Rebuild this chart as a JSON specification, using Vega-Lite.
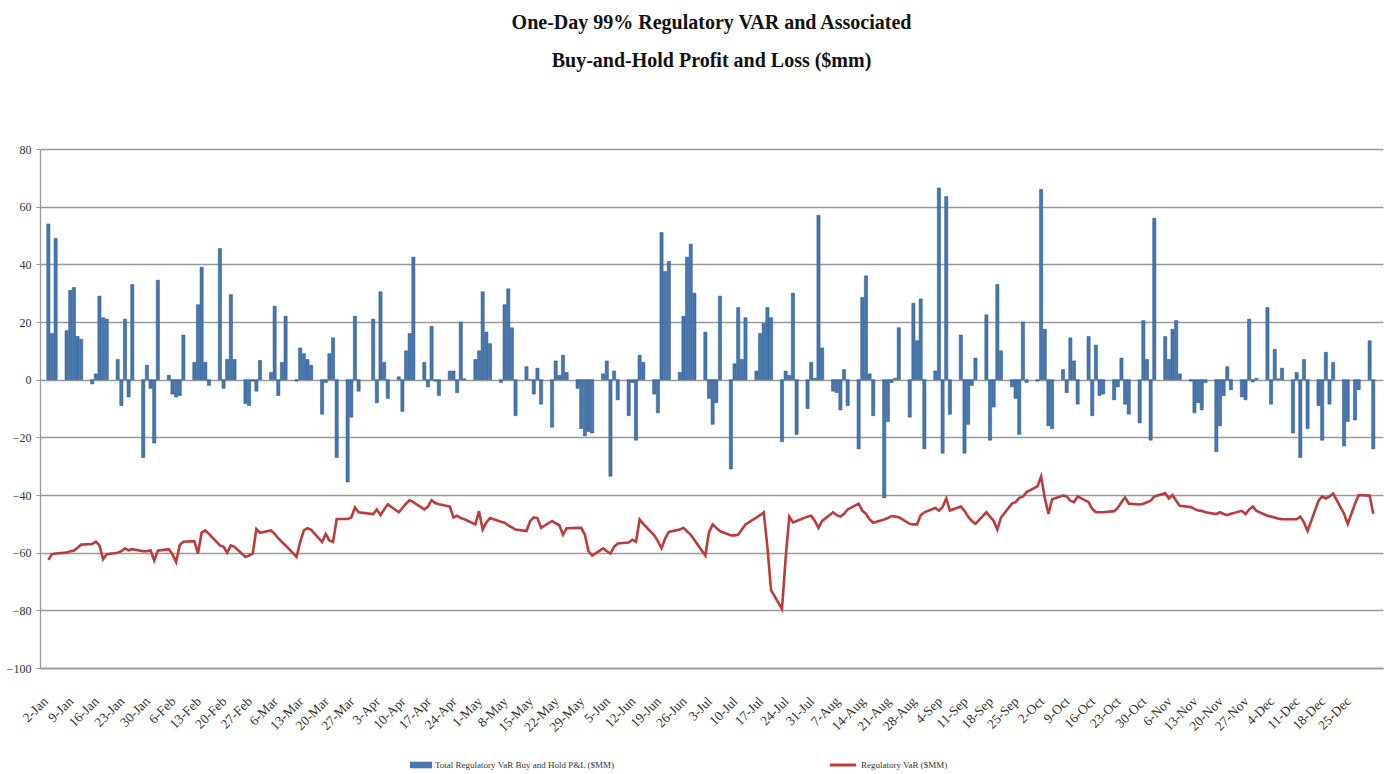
{
  "$schema": "https://vega.github.io/schema/vega-lite/v6.json",
  "width": 1343,
  "height": 519,
  "autosize": {"type": "none"},
  "padding": {"left": 40, "top": 149, "right": 8, "bottom": 106},
  "background": "white",
  "config": {"view": {"stroke": null}, "font": "Liberation Serif"},
  "title": {
    "text": ["One-Day 99% Regulatory VAR and Associated", "Buy-and-Hold Profit and Loss ($mm)"],
    "anchor": "middle", "frame": "group", "font": "Liberation Serif", "fontSize": 20,
    "fontWeight": "bold", "lineHeight": 38, "offset": 72, "color": "#111"
  },
  "data": {"values": [
    {"d":"2013-01-02","pnl":54,"v":-62.5},{"d":"2013-01-03","pnl":16,"v":-60.5},{"d":"2013-01-04","pnl":49,"v":-60.3},
    {"d":"2013-01-07","pnl":17,"v":-60},{"d":"2013-01-08","pnl":31,"v":-59.5},{"d":"2013-01-09","pnl":32,"v":-59.3},{"d":"2013-01-10","pnl":15,"v":-58.3},{"d":"2013-01-11","pnl":14,"v":-57.2},
    {"d":"2013-01-14","pnl":-1.5,"v":-57},{"d":"2013-01-15","pnl":2,"v":-56.2},{"d":"2013-01-16","pnl":29,"v":-57.5},{"d":"2013-01-17","pnl":21.5,"v":-62.3},{"d":"2013-01-18","pnl":21,"v":-60.5},
    {"d":"2013-01-21","pnl":7,"v":-60},{"d":"2013-01-22","pnl":-9,"v":-59.5},{"d":"2013-01-23","pnl":21,"v":-58.5},{"d":"2013-01-24","pnl":-6,"v":-59.2},{"d":"2013-01-25","pnl":33,"v":-58.8},
    {"d":"2013-01-28","pnl":-27,"v":-59.5},{"d":"2013-01-29","pnl":5,"v":-59.5},{"d":"2013-01-30","pnl":-3,"v":-59.2},{"d":"2013-01-31","pnl":-22,"v":-62.7},{"d":"2013-02-01","pnl":34.5,"v":-59.3},
    {"d":"2013-02-04","pnl":1.5,"v":-58.8},{"d":"2013-02-05","pnl":-5,"v":-60.5},{"d":"2013-02-06","pnl":-6,"v":-63.3},{"d":"2013-02-07","pnl":-5.5,"v":-57.3},{"d":"2013-02-08","pnl":15.5,"v":-56.2},
    {"d":"2013-02-11","pnl":6,"v":-56},{"d":"2013-02-12","pnl":26,"v":-60.3},{"d":"2013-02-13","pnl":39,"v":-53},{"d":"2013-02-14","pnl":6,"v":-52.3},{"d":"2013-02-15","pnl":-2,"v":-53.5},
    {"d":"2013-02-18","pnl":45.5,"v":-57.5},{"d":"2013-02-19","pnl":-3,"v":-58},{"d":"2013-02-20","pnl":7,"v":-60},{"d":"2013-02-21","pnl":29.5,"v":-57.5},{"d":"2013-02-22","pnl":7,"v":-58},
    {"d":"2013-02-25","pnl":-8.3,"v":-61.5},{"d":"2013-02-26","pnl":-9,"v":-61},{"d":"2013-02-27","pnl":-0.5,"v":-60.3},{"d":"2013-02-28","pnl":-4,"v":-51.8},{"d":"2013-03-01","pnl":6.7,"v":-53.1},
    {"d":"2013-03-04","pnl":2.5,"v":-52.3},{"d":"2013-03-05","pnl":25.5,"v":-53.5},{"d":"2013-03-06","pnl":-5.5,"v":-55},{"d":"2013-03-07","pnl":6,"v":-56.3},{"d":"2013-03-08","pnl":22,"v":-57.5},
    {"d":"2013-03-11","pnl":-0.5,"v":-61.5},{"d":"2013-03-12","pnl":11,"v":-56.3},{"d":"2013-03-13","pnl":9,"v":-52.3},{"d":"2013-03-14","pnl":7,"v":-51.5},{"d":"2013-03-15","pnl":5,"v":-52.1},
    {"d":"2013-03-18","pnl":-12,"v":-56.3},{"d":"2013-03-19","pnl":-1,"v":-53.5},{"d":"2013-03-20","pnl":9,"v":-55.8},{"d":"2013-03-21","pnl":14.5,"v":-56.3},{"d":"2013-03-22","pnl":-27,"v":-48.3},
    {"d":"2013-03-25","pnl":-35.5,"v":-48.3},{"d":"2013-03-26","pnl":-13,"v":-47.8},{"d":"2013-03-27","pnl":22,"v":-44.3},{"d":"2013-03-28","pnl":-4,"v":-46},
    {"d":"2013-04-01","pnl":21,"v":-46.6},{"d":"2013-04-02","pnl":-8,"v":-45},{"d":"2013-04-03","pnl":30.5,"v":-47},{"d":"2013-04-04","pnl":6,"v":-45},{"d":"2013-04-05","pnl":-6.5,"v":-43.2},
    {"d":"2013-04-08","pnl":1,"v":-46},{"d":"2013-04-09","pnl":-11,"v":-44.5},{"d":"2013-04-10","pnl":10,"v":-43},{"d":"2013-04-11","pnl":16,"v":-41.8},{"d":"2013-04-12","pnl":42.5,"v":-42.5},
    {"d":"2013-04-15","pnl":6,"v":-45},{"d":"2013-04-16","pnl":-2.5,"v":-44},{"d":"2013-04-17","pnl":18.5,"v":-41.8},{"d":"2013-04-18","pnl":-0.5,"v":-42.8},{"d":"2013-04-19","pnl":-5.5,"v":-43.2},
    {"d":"2013-04-22","pnl":3,"v":-44},{"d":"2013-04-23","pnl":3,"v":-47.8},{"d":"2013-04-24","pnl":-4.5,"v":-47.2},{"d":"2013-04-25","pnl":20,"v":-48},{"d":"2013-04-26","pnl":0.3,"v":-48.4},
    {"d":"2013-04-29","pnl":7,"v":-50.2},{"d":"2013-04-30","pnl":10,"v":-45.6},{"d":"2013-05-01","pnl":30.5,"v":-52},{"d":"2013-05-02","pnl":16.5,"v":-49.5},{"d":"2013-05-03","pnl":12.5,"v":-48},
    {"d":"2013-05-06","pnl":-1,"v":-49.3},{"d":"2013-05-07","pnl":26,"v":-49.6},{"d":"2013-05-08","pnl":31.5,"v":-50.5},{"d":"2013-05-09","pnl":18,"v":-51.2},{"d":"2013-05-10","pnl":-12.5,"v":-52},
    {"d":"2013-05-13","pnl":4.5,"v":-52.5},{"d":"2013-05-14","pnl":0,"v":-49},{"d":"2013-05-15","pnl":-5,"v":-47.8},{"d":"2013-05-16","pnl":4,"v":-48},{"d":"2013-05-17","pnl":-8.5,"v":-51.4},
    {"d":"2013-05-20","pnl":-16.5,"v":-49},{"d":"2013-05-21","pnl":6.5,"v":-49.8},{"d":"2013-05-22","pnl":1.5,"v":-50.5},{"d":"2013-05-23","pnl":8.5,"v":-53.8},{"d":"2013-05-24","pnl":2.5,"v":-51.5},
    {"d":"2013-05-27","pnl":-3,"v":-51.4},{"d":"2013-05-28","pnl":-17,"v":-51.4},{"d":"2013-05-29","pnl":-19.5,"v":-53.8},{"d":"2013-05-30","pnl":-18,"v":-59.5},{"d":"2013-05-31","pnl":-18.5,"v":-61},
    {"d":"2013-06-03","pnl":2,"v":-58.5},{"d":"2013-06-04","pnl":6.5,"v":-59.5},{"d":"2013-06-05","pnl":-33.5,"v":-60.3},{"d":"2013-06-06","pnl":3,"v":-58},{"d":"2013-06-07","pnl":-7,"v":-56.8},
    {"d":"2013-06-10","pnl":-12.5,"v":-56.5},{"d":"2013-06-11","pnl":-1,"v":-55.5},{"d":"2013-06-12","pnl":-21,"v":-56.2},{"d":"2013-06-13","pnl":8.5,"v":-48.5},{"d":"2013-06-14","pnl":6,"v":-50},
    {"d":"2013-06-17","pnl":-5,"v":-54},{"d":"2013-06-18","pnl":-11.5,"v":-56},{"d":"2013-06-19","pnl":51,"v":-58.5},{"d":"2013-06-20","pnl":37.5,"v":-55},{"d":"2013-06-21","pnl":41,"v":-52.8},
    {"d":"2013-06-24","pnl":2.5,"v":-52},{"d":"2013-06-25","pnl":22,"v":-51.4},{"d":"2013-06-26","pnl":42.5,"v":-52.6},{"d":"2013-06-27","pnl":47,"v":-53.8},{"d":"2013-06-28","pnl":30,"v":-55.6},
    {"d":"2013-07-01","pnl":16.5,"v":-61},{"d":"2013-07-02","pnl":-6.5,"v":-53},{"d":"2013-07-03","pnl":-15.5,"v":-50.2},{"d":"2013-07-04","pnl":-8,"v":-51.4},{"d":"2013-07-05","pnl":29,"v":-52.5},
    {"d":"2013-07-08","pnl":-31,"v":-54},{"d":"2013-07-09","pnl":5.5,"v":-54},{"d":"2013-07-10","pnl":25,"v":-53.8},{"d":"2013-07-11","pnl":7,"v":-52},{"d":"2013-07-12","pnl":21.5,"v":-50.2},
    {"d":"2013-07-15","pnl":3,"v":-47.8},{"d":"2013-07-16","pnl":16,"v":-47},{"d":"2013-07-17","pnl":19.5,"v":-46},{"d":"2013-07-18","pnl":25,"v":-58},{"d":"2013-07-19","pnl":21.5,"v":-73},
    {"d":"2013-07-22","pnl":-21.5,"v":-79.5},{"d":"2013-07-23","pnl":3,"v":-62},{"d":"2013-07-24","pnl":1.5,"v":-47.5},{"d":"2013-07-25","pnl":30,"v":-49.5},{"d":"2013-07-26","pnl":-19,"v":-49},
    {"d":"2013-07-29","pnl":-10,"v":-47.5},{"d":"2013-07-30","pnl":6,"v":-47.2},{"d":"2013-07-31","pnl":0.5,"v":-49},{"d":"2013-08-01","pnl":57,"v":-51.4},{"d":"2013-08-02","pnl":11,"v":-49},
    {"d":"2013-08-05","pnl":-4,"v":-46},{"d":"2013-08-06","pnl":-4.5,"v":-47},{"d":"2013-08-07","pnl":-10.5,"v":-47.5},{"d":"2013-08-08","pnl":3.5,"v":-46.5},{"d":"2013-08-09","pnl":-9,"v":-45},
    {"d":"2013-08-12","pnl":-24,"v":-43},{"d":"2013-08-13","pnl":28.5,"v":-45.4},{"d":"2013-08-14","pnl":36,"v":-46.5},{"d":"2013-08-15","pnl":2,"v":-48.5},{"d":"2013-08-16","pnl":-12.5,"v":-49.6},
    {"d":"2013-08-19","pnl":-41,"v":-48.5},{"d":"2013-08-20","pnl":-14.5,"v":-48},{"d":"2013-08-21","pnl":-1,"v":-47.3},{"d":"2013-08-22","pnl":0.5,"v":-47.5},{"d":"2013-08-23","pnl":18,"v":-47.7},
    {"d":"2013-08-26","pnl":-13,"v":-50},{"d":"2013-08-27","pnl":26.5,"v":-50.2},{"d":"2013-08-28","pnl":13.5,"v":-50.2},{"d":"2013-08-29","pnl":28,"v":-47},{"d":"2013-08-30","pnl":-24,"v":-46},
    {"d":"2013-09-02","pnl":3,"v":-44.5},{"d":"2013-09-03","pnl":66.5,"v":-45.4},{"d":"2013-09-04","pnl":-25.5,"v":-44.2},{"d":"2013-09-05","pnl":63.5,"v":-41.2},{"d":"2013-09-06","pnl":-12,"v":-45.4},
    {"d":"2013-09-09","pnl":15.5,"v":-44},{"d":"2013-09-10","pnl":-25.5,"v":-45.5},{"d":"2013-09-11","pnl":-15.5,"v":-47.5},{"d":"2013-09-12","pnl":-2,"v":-49},{"d":"2013-09-13","pnl":7.5,"v":-50},
    {"d":"2013-09-16","pnl":22.5,"v":-46},{"d":"2013-09-17","pnl":-21,"v":-47.5},{"d":"2013-09-18","pnl":-9.5,"v":-49},{"d":"2013-09-19","pnl":33,"v":-52},{"d":"2013-09-20","pnl":10,"v":-47.8},
    {"d":"2013-09-23","pnl":-2.5,"v":-43},{"d":"2013-09-24","pnl":-6.5,"v":-42.5},{"d":"2013-09-25","pnl":-19,"v":-41},{"d":"2013-09-26","pnl":20,"v":-40.6},{"d":"2013-09-27","pnl":-1,"v":-39},
    {"d":"2013-09-30","pnl":-0.5,"v":-37},{"d":"2013-10-01","pnl":66,"v":-33.5},{"d":"2013-10-02","pnl":17.5,"v":-41},{"d":"2013-10-03","pnl":-16,"v":-46.6},{"d":"2013-10-04","pnl":-17,"v":-41.5},
    {"d":"2013-10-07","pnl":3.5,"v":-40.2},{"d":"2013-10-08","pnl":-4.5,"v":-40.5},{"d":"2013-10-09","pnl":14.5,"v":-42},{"d":"2013-10-10","pnl":6.5,"v":-42.5},{"d":"2013-10-11","pnl":-8.5,"v":-40.5},
    {"d":"2013-10-14","pnl":15,"v":-42.5},{"d":"2013-10-15","pnl":-12.5,"v":-44.8},{"d":"2013-10-16","pnl":12,"v":-46},{"d":"2013-10-17","pnl":-5.5,"v":-46},{"d":"2013-10-18","pnl":-5,"v":-46},
    {"d":"2013-10-21","pnl":-7,"v":-45.6},{"d":"2013-10-22","pnl":-2.5,"v":-44.5},{"d":"2013-10-23","pnl":7.5,"v":-42.5},{"d":"2013-10-24","pnl":-8.5,"v":-40.8},{"d":"2013-10-25","pnl":-12,"v":-43},
    {"d":"2013-10-28","pnl":-15,"v":-43.3},{"d":"2013-10-29","pnl":20.5,"v":-43},{"d":"2013-10-30","pnl":7,"v":-42.5},{"d":"2013-10-31","pnl":-21,"v":-42},{"d":"2013-11-01","pnl":56,"v":-40.5},
    {"d":"2013-11-04","pnl":15,"v":-39.4},{"d":"2013-11-05","pnl":7,"v":-41.2},{"d":"2013-11-06","pnl":17.5,"v":-40},{"d":"2013-11-07","pnl":20.5,"v":-42},{"d":"2013-11-08","pnl":2,"v":-43.7},
    {"d":"2013-11-11","pnl":-0.5,"v":-44.2},{"d":"2013-11-12","pnl":-11.5,"v":-44.8},{"d":"2013-11-13","pnl":-8,"v":-45.4},{"d":"2013-11-14","pnl":-10.5,"v":-45.5},{"d":"2013-11-15","pnl":-1,"v":-46},
    {"d":"2013-11-18","pnl":-25,"v":-46.6},{"d":"2013-11-19","pnl":-16,"v":-46},{"d":"2013-11-20","pnl":-5.5,"v":-46.6},{"d":"2013-11-21","pnl":4.5,"v":-47},{"d":"2013-11-22","pnl":-3.5,"v":-46.5},
    {"d":"2013-11-25","pnl":-6,"v":-45.5},{"d":"2013-11-26","pnl":-7,"v":-46.6},{"d":"2013-11-27","pnl":21,"v":-45},{"d":"2013-11-28","pnl":-0.8,"v":-44},{"d":"2013-11-29","pnl":0.5,"v":-45.5},
    {"d":"2013-12-02","pnl":25,"v":-47.2},{"d":"2013-12-03","pnl":-8.5,"v":-47.5},{"d":"2013-12-04","pnl":10.5,"v":-47.8},{"d":"2013-12-05","pnl":0.3,"v":-48.2},{"d":"2013-12-06","pnl":4,"v":-48.4},
    {"d":"2013-12-09","pnl":-18.5,"v":-48.4},{"d":"2013-12-10","pnl":2.5,"v":-48.4},{"d":"2013-12-11","pnl":-27,"v":-47.5},{"d":"2013-12-12","pnl":7,"v":-49.5},{"d":"2013-12-13","pnl":-17,"v":-52.5},
    {"d":"2013-12-16","pnl":-9,"v":-42},{"d":"2013-12-17","pnl":-21,"v":-40.5},{"d":"2013-12-18","pnl":9.5,"v":-41.2},{"d":"2013-12-19","pnl":-8.5,"v":-40.5},{"d":"2013-12-20","pnl":6,"v":-39.5},
    {"d":"2013-12-23","pnl":-23,"v":-46.5},{"d":"2013-12-24","pnl":-14.5,"v":-50},{"d":"2013-12-26","pnl":-14,"v":-43},{"d":"2013-12-27","pnl":-3.5,"v":-40},
    {"d":"2013-12-30","pnl":13.5,"v":-40.2},{"d":"2013-12-31","pnl":-24,"v":-46.5}
  ]},
  "encoding": {
    "x": {
      "field": "d", "type": "temporal", "title": null,
      "scale": {"type": "utc", "domain": [1357005600000, 1388559600000]},
      "axis": {
        "values": [1357084800000,1357689600000,1358294400000,1358899200000,1359504000000,1360108800000,1360713600000,1361318400000,1361923200000,1362528000000,1363132800000,1363737600000,1364342400000,1364947200000,1365552000000,1366156800000,1366761600000,1367366400000,1367971200000,1368576000000,1369180800000,1369785600000,1370390400000,1370995200000,1371600000000,1372204800000,1372809600000,1373414400000,1374019200000,1374624000000,1375228800000,1375833600000,1376438400000,1377043200000,1377648000000,1378252800000,1378857600000,1379462400000,1380067200000,1380672000000,1381276800000,1381881600000,1382486400000,1383091200000,1383696000000,1384300800000,1384905600000,1385510400000,1386115200000,1386720000000,1387324800000,1387929600000],
        "labelExpr": "utcFormat(datum.value, '%-d-%b')",
        "labelAngle": -45, "labelAlign": "right", "labelBaseline": "middle",
        "labelFont": "Liberation Serif", "labelFontSize": 13.5, "labelColor": "#333",
        "labelOverlap": false, "labelBound": false, "labelFlush": false, "labelPadding": 31, "labelOffset": -3,
        "grid": false, "ticks": false,
        "domainColor": "#999", "domainWidth": 1.3
      }
    }
  },
  "layer": [
    {
      "mark": {"type": "bar", "size": 3.2, "stroke": "#2b5283", "strokeWidth": 0.5},
      "encoding": {
        "y": {
          "field": "pnl", "type": "quantitative", "title": null,
          "scale": {"domain": [-100, 80], "nice": false, "zero": false},
          "axis": {
            "values": [-100,-80,-60,-40,-20,0,20,40,60,80],
            "grid": true, "gridColor": "#9a9a9a", "gridWidth": 1.3,
            "domainColor": "#999", "domainWidth": 1.3, "tickColor": "#999", "tickSize": 4,
            "labelFont": "Liberation Serif", "labelFontSize": 12, "labelColor": "#333", "labelPadding": 5
          }
        },
        "fill": {
          "datum": "Total Regulatory VaR Buy and Hold P&L ($MM)",
          "scale": {"range": ["#4677b0"]},
          "legend": {
            "orient": "none", "legendX": 370, "legendY": 605, "title": null, "padding": 0,
            "symbolType": "M-1,-0.3H1V0.3H-1Z", "symbolSize": 484, "symbolStrokeWidth": 0,
            "labelFont": "Liberation Serif", "labelFontSize": 9, "labelColor": "#333", "labelOffset": 3, "labelLimit": 400
          }
        }
      }
    },
    {
      "mark": {"type": "line", "strokeWidth": 2.6, "interpolate": "linear"},
      "encoding": {
        "y": {"field": "v", "type": "quantitative", "title": null},
        "stroke": {
          "datum": "Regulatory VaR ($MM)",
          "scale": {"range": ["#be3b3b"]},
          "legend": {
            "orient": "none", "legendX": 788, "legendY": 601, "title": null, "padding": 0,
            "symbolType": "stroke", "symbolSize": 700, "symbolStrokeWidth": 3,
            "labelFont": "Liberation Serif", "labelFontSize": 9, "labelColor": "#333", "labelOffset": 3, "labelLimit": 400
          }
        }
      }
    }
  ]
}
